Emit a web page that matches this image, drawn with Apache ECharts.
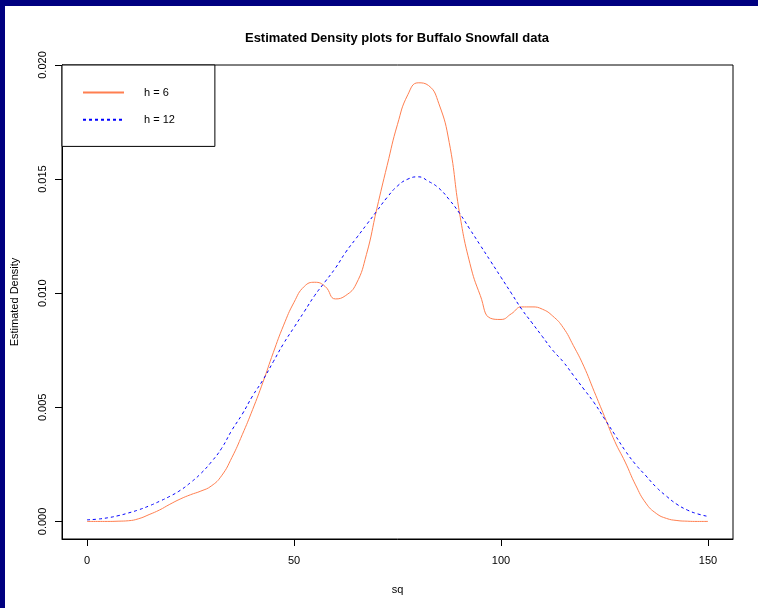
<!DOCTYPE html>
<html><head><meta charset="utf-8">
<script src="https://cdn.jsdelivr.net/npm/echarts@6/dist/echarts.min.js"></script>
<style>html,body{margin:0;padding:0;background:#fff}#c{width:758px;height:608px}</style>
</head><body><div id="c"></div>
<script>
const xs = [0,2.5,5,7.5,10,12.5,15,17.5,20,22.5,25,27.5,30,32.5,35,37.5,40,42.5,45,47.5,50,52.5,55,57.5,60,62.5,65,67.5,70,72.5,75,77.5,80,82.5,85,87.5,90,92.5,95,97.5,100,102.5,105,107.5,110,112.5,115,117.5,120,122.5,125,127.5,130,132.5,135,137.5,140,142.5,145,147.5,150];
const h6 = [0.0000,0.0000,0.0000,0.00001,0.00003,0.00012,0.0003,0.0005,0.00075,0.00098,0.00117,0.00133,0.00155,0.0020,0.0028,0.0038,0.0049,0.0061,0.0074,0.0086,0.0096,0.0103,0.01048,0.0103,0.00975,0.0099,0.0104,0.0117,0.0137,0.0156,0.0174,0.0187,0.01922,0.0191,0.0183,0.0166,0.0135,0.0113,0.0099,0.0089,0.00885,0.0091,0.0094,0.0094,0.0093,0.0090,0.0085,0.0077,0.0068,0.0057,0.0046,0.0035,0.0026,0.0016,0.0008,0.00035,0.00013,0.00004,0.00001,0.0,0.0];
const h12 = [0.00007,0.0001,0.00016,0.00025,0.00037,0.00051,0.00068,0.00088,0.0011,0.00136,0.0017,0.0021,0.0026,0.0032,0.0040,0.0047,0.0055,0.0062,0.0070,0.0078,0.0085,0.0092,0.0099,0.0105,0.0111,0.0118,0.0124,0.0130,0.0136,0.0142,0.0147,0.0150,0.0151,0.0149,0.0146,0.0141,0.0135,0.0128,0.0121,0.0114,0.0107,0.0100,0.0093,0.0087,0.0081,0.0075,0.0070,0.0064,0.0058,0.0052,0.0045,0.0038,0.0031,0.0025,0.0020,0.0015,0.0011,0.00075,0.0005,0.00033,0.00022];
const xTicks = [0,50,100,150];
const yTicks = [0,0.005,0.010,0.015,0.020];
const seriesNames = ['h = 6','h = 12'];
const titleText = 'Estimated Density plots for Buffalo Snowfall data';
const xLabel = 'sq';
const yLabel = 'Estimated Density';

const FONT = "'Liberation Sans', Arial, Helvetica, sans-serif";
const chart = echarts.init(document.getElementById('c'), null, {renderer:'canvas'});
chart.setOption({
  animation:false,
  backgroundColor:'#fff',
  title:{text:titleText,left:392,top:27,textAlign:'center',
    textStyle:{fontSize:13,fontWeight:'bold',color:'#000',fontFamily:FONT}},
  grid:{left:62,top:65,right:25,bottom:69,show:true,borderColor:'#000',borderWidth:1,backgroundColor:'transparent'},
  legend:{orient:'vertical',left:62,top:65,padding:[22,40,21,20],itemWidth:41,itemHeight:14,itemGap:16,
    borderColor:'#000',borderWidth:1,borderRadius:0,backgroundColor:'#fff',
    itemStyle:{color:'rgba(0,0,0,0)',borderColor:'rgba(0,0,0,0)',borderWidth:0,opacity:0},
    textStyle:{fontSize:11,color:'#000',fontFamily:FONT,padding:[0,0,0,15]},
    data:seriesNames},
  xAxis:{type:'value',min:-6.04,max:156.04,
    name:xLabel,nameLocation:'middle',nameGap:45,nameTextStyle:{fontSize:11,color:'#000',fontFamily:FONT},
    axisLine:{show:true,onZero:false,lineStyle:{color:'#000',width:1}},
    axisTick:{show:true,length:7,customValues:xTicks,lineStyle:{color:'#000'}},
    axisLabel:{customValues:xTicks,margin:16,fontSize:11,color:'#000',fontFamily:FONT},
    splitLine:{show:false}},
  yAxis:{type:'value',min:-0.00077,max:0.0200,
    name:yLabel,nameLocation:'middle',nameRotate:90,nameGap:42,nameTextStyle:{fontSize:11,color:'#000',fontFamily:FONT},
    axisLine:{show:true,onZero:false,lineStyle:{color:'#000',width:1}},
    axisTick:{show:true,length:7,customValues:yTicks,lineStyle:{color:'#000'}},
    axisLabel:{customValues:yTicks,rotate:90,margin:14,fontSize:11,color:'#000',fontFamily:FONT,
      formatter:v=>v.toFixed(3)},
    splitLine:{show:false}},
  graphic:[
    {type:'rect',shape:{x:0,y:0,width:758,height:6},style:{fill:'#000080'},z:100},
    {type:'rect',shape:{x:0,y:0,width:5,height:608},style:{fill:'#000080'},z:100}
  ],
  series:[
    {name:seriesNames[0],type:'line',data:xs.map((x,i)=>[x,h6[i]]),smooth:0.5,symbol:'none',
      lineStyle:{color:'#FF7F50',width:1},itemStyle:{color:'#FF7F50'}},
    {name:seriesNames[1],type:'line',data:xs.map((x,i)=>[x,h12[i]]),smooth:0.5,symbol:'none',
      lineStyle:{color:'#0000FF',width:1,type:[3,3]},itemStyle:{color:'#0000FF'}}
  ]
});
</script></body></html>
